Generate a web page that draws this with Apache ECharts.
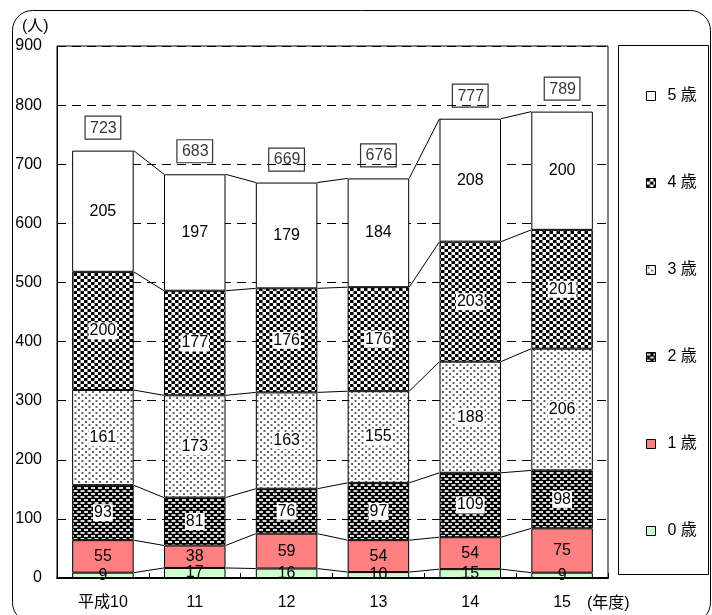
<!DOCTYPE html>
<html>
<head>
<meta charset="utf-8">
<script src="https://cdn.jsdelivr.net/npm/echarts@6/dist/echarts.min.js"></script>
<style>
html, body { margin: 0; padding: 0; background: #fff; }
#main { width: 712px; height: 615px; }
</style>
</head>
<body>
<div id="main"></div>
<script>
// 年度
var years = ['平成10', '11', '12', '13', '14', '15'];
// 年齢別人数
var age0 = [9, 17, 16, 10, 15, 9];
var age1 = [55, 38, 59, 54, 54, 75];
var age2 = [93, 81, 76, 97, 109, 98];
var age3 = [161, 173, 163, 155, 188, 206];
var age4 = [200, 177, 176, 176, 203, 201];
var age5 = [205, 197, 179, 184, 208, 200];
var totals = [723, 683, 669, 676, 777, 789];
var ageNames = ['0 歳', '1 歳', '2 歳', '3 歳', '4 歳', '5 歳'];

var FONT = "'Liberation Sans', 'Noto Sans CJK JP', sans-serif";
var BAR_RATIO = 0.67;

// 網掛けパターン
function makePattern(w, h, bg, fg, rects) {
    var c = document.createElement('canvas');
    c.width = w;
    c.height = h;
    var ctx = c.getContext('2d');
    ctx.fillStyle = bg;
    ctx.fillRect(0, 0, w, h);
    ctx.fillStyle = fg;
    for (let r of rects) {
        for (let dx of [-w, 0, w]) {
            for (let dy of [-h, 0, h]) {
                ctx.fillRect(r[0] + dx, r[1] + dy, r[2], r[3]);
            }
        }
    }
    return { image: c, repeat: 'repeat' };
}

var fills = [
    '#ccffcc',
    '#ff8080',
    makePattern(7, 6, '#000', '#d8d8d8', [[0, 1, 4, 2], [3.5, 4, 4, 2]]),
    makePattern(7, 6, '#fff', '#666', [[1, 1, 2, 2], [4.5, 4, 2, 2]]),
    makePattern(7, 6, '#fff', '#000', [[0, 0, 3.5, 3], [3.5, 3, 3.5, 3]]),
    '#fff'
];

var ageData = [age0, age1, age2, age3, age4, age5];

// 各段の上端（連結線用）
function getStackTops() {
    let tops = [];
    let run = years.map(function () { return 0; });
    for (let arr of ageData) {
        run = run.map(function (v, i) { return v + arr[i]; });
        tops.push(run.slice());
    }
    return tops;
}
var stackTops = getStackTops();

function renderLinks(params, api) {
    var i = api.value(0);
    var bw = api.size([1, 0])[0] * BAR_RATIO;
    var children = [];
    for (let k = 0; k < stackTops.length; k++) {
        let p1 = api.coord([i, stackTops[k][i]]);
        let p2 = api.coord([i + 1, stackTops[k][i + 1]]);
        children.push({
            type: 'line',
            shape: { x1: p1[0] + bw / 2, y1: p1[1], x2: p2[0] - bw / 2, y2: p2[1] },
            style: { stroke: '#000', lineWidth: 1 }
        });
    }
    return { type: 'group', children: children };
}

function getBarSeries() {
    let list = [];
    ageData.forEach(function (arr, k) {
        let label = {
            show: true,
            position: 'inside',
            color: '#000',
            fontSize: 16,
            fontFamily: FONT
        };
        if (k >= 2 && k <= 4) {
            label.backgroundColor = '#fff';
            label.padding = [1, 1, 0, 1];
        }
        list.push({
            name: ageNames[k],
            type: 'bar',
            stack: 'total',
            barWidth: (BAR_RATIO * 100) + '%',
            data: arr,
            itemStyle: { color: fills[k], borderColor: '#000', borderWidth: 1 },
            label: label,
            silent: true
        });
    });
    return list;
}

function drawChart() {
    var myChart = echarts.init(document.getElementById('main'));
    var series = getBarSeries();
    series.push({
        type: 'custom',
        renderItem: renderLinks,
        data: [0, 1, 2, 3, 4].map(function (i) { return [i, 0]; }),
        encode: { x: 0, y: 1 },
        silent: true,
        z: 1
    });
    series.push({
        type: 'scatter',
        data: totals,
        symbolSize: 1,
        itemStyle: { color: 'rgba(0,0,0,0)' },
        label: {
            show: true,
            position: 'top',
            distance: 11,
            color: '#000',
            fontSize: 16,
            fontFamily: FONT,
            borderColor: '#000',
            borderWidth: 1.2,
            padding: [4, 4, 3, 5]
        },
        silent: true
    });

    var option = {
        animation: false,
        backgroundColor: '#fff',
        grid: {
            left: 57, right: 104, top: 46, bottom: 37,
            show: true, borderColor: '#000', borderWidth: 1
        },
        legend: {
            orient: 'vertical',
            left: 641,
            top: 83,
            itemWidth: 9,
            itemHeight: 9,
            itemGap: 71,
            data: ageNames.slice().reverse(),
            itemStyle: { borderColor: '#000', borderWidth: 1 },
            textStyle: {
                fontSize: 16, fontFamily: FONT, color: '#000',
                lineHeight: 16, padding: [0, 0, 0, 7]
            },
            icon: 'rect',
            selectedMode: false
        },
        xAxis: {
            type: 'category',
            data: years,
            axisLine: { lineStyle: { color: '#000', width: 2 } },
            axisTick: { show: true, inside: true, length: 5, lineStyle: { color: '#000' } },
            axisLabel: { color: '#000', fontSize: 16, fontFamily: FONT, margin: 17 }
        },
        yAxis: {
            type: 'value',
            min: 0,
            max: 900,
            interval: 100,
            axisLine: { show: true, lineStyle: { color: '#000' } },
            axisTick: { show: false },
            axisLabel: { color: '#000', fontSize: 16, fontFamily: FONT, margin: 15 },
            splitLine: { lineStyle: { color: '#000', type: [9, 6], width: 1 } }
        },
        graphic: [
            {
                type: 'rect', silent: true, z: -10,
                shape: { x: 12.5, y: 10.5, width: 698, height: 612, r: 20 },
                style: { fill: 'none', stroke: '#000', lineWidth: 1 }
            },
            {
                type: 'rect', silent: true,
                shape: { x: 618.5, y: 45.5, width: 90, height: 529 },
                style: { fill: 'none', stroke: '#000', lineWidth: 1 }
            },
            {
                type: 'text', left: 22, top: 19,
                style: { text: '(人)', font: '16px ' + FONT, fill: '#000' }
            },
            {
                type: 'text', left: 587, top: 596,
                style: { text: '(年度)', font: '16px ' + FONT, fill: '#000' }
            }
        ],
        series: series
    };
    myChart.setOption(option);
}

drawChart();
</script>
</body>
</html>
